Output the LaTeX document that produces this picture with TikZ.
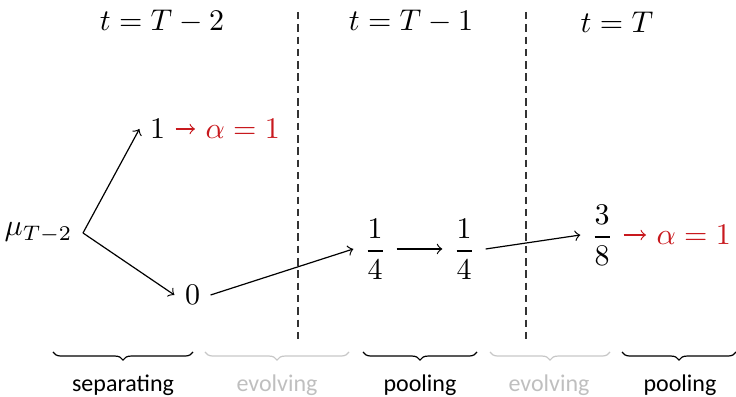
\documentclass[tikz,border=0pt]{standalone}
\usepackage{fontspec}
\setsansfont{Carlito}
\usetikzlibrary{decorations.pathreplacing}
\definecolor{myred}{RGB}{200,25,30}
\begin{document}
\begin{tikzpicture}[x=0.3333pt,y=-0.3333pt,
  vsep/.style={draw=black!80, dash pattern=on 2.5pt off 1.6pt},
  con/.style={->},
  redcon/.style={->, draw=myred},
  redtxt/.style={text=myred},
  brc/.style={decorate, decoration={brace, mirror, amplitude=2.7pt}},
  lab/.style={font=\sffamily\footnotesize},
  faded/.style={black!22}
]
\useasboundingbox (0,0) rectangle (736,397);
% headers
\node (h1) at (162,22) {$t=T-2$};
\node (h2) at (411,22) {$t=T-1$};
\node (h3) at (617,22) {$t=T$};
% separators
\coordinate (s1a) at (298,12); \coordinate (s1b) at (298,340);
\coordinate (s2a) at (526,12); \coordinate (s2b) at (526,340);
\draw[vsep] (s1a) -- (s1b);
\draw[vsep] (s2a) -- (s2b);
% nodes
\node[anchor=east] (mu) at (83,233) {$\mu_{T-2}$};
\node (one) at (157.5,129) {$1$};
\node[anchor=west, redtxt] (a1) at (195,129) {$\alpha = 1$};
\node (zero) at (192.5,295) {$0$};
\node (qa) at (375,249) {$\displaystyle\frac{1}{4}$};
\node (qb) at (464,249) {$\displaystyle\frac{1}{4}$};
\node (te) at (602,235) {$\displaystyle\frac{3}{8}$};
\node[anchor=west, redtxt] (a2) at (646,235) {$\alpha = 1$};
% connectors
\draw[con] (mu.east) -- (one.west);
\draw[con] (mu.east) -- (zero.west);
\draw[con] (zero.east) -- (qa.west);
\draw[con] (qa.east) -- (qb.west);
\draw[con] (qb.east) -- (te.west);
\draw[redcon] (one) -- (a1);
\draw[redcon] (te) -- (a2);
% braces
\coordinate (b1a) at (53,352); \coordinate (b1b) at (193,352);
\coordinate (b2a) at (205,352); \coordinate (b2b) at (349,352);
\coordinate (b3a) at (363,352); \coordinate (b3b) at (477,352);
\coordinate (b4a) at (490,352); \coordinate (b4b) at (610,352);
\coordinate (b5a) at (622,352); \coordinate (b5b) at (736,352);
\draw[brc] (b1a) -- (b1b);
\draw[brc, faded] (b2a) -- (b2b);
\draw[brc] (b3a) -- (b3b);
\draw[brc, faded] (b4a) -- (b4b);
\draw[brc] (b5a) -- (b5b);
\node[lab] (l1) at (123,385) {separating};
\node[lab, text=black!25] (l2) at (277,385) {evolving};
\node[lab] (l3) at (420,385) {pooling};
\node[lab, text=black!25] (l4) at (549,385) {evolving};
\node[lab] (l5) at (680,385) {pooling};
\end{tikzpicture}
\end{document}
